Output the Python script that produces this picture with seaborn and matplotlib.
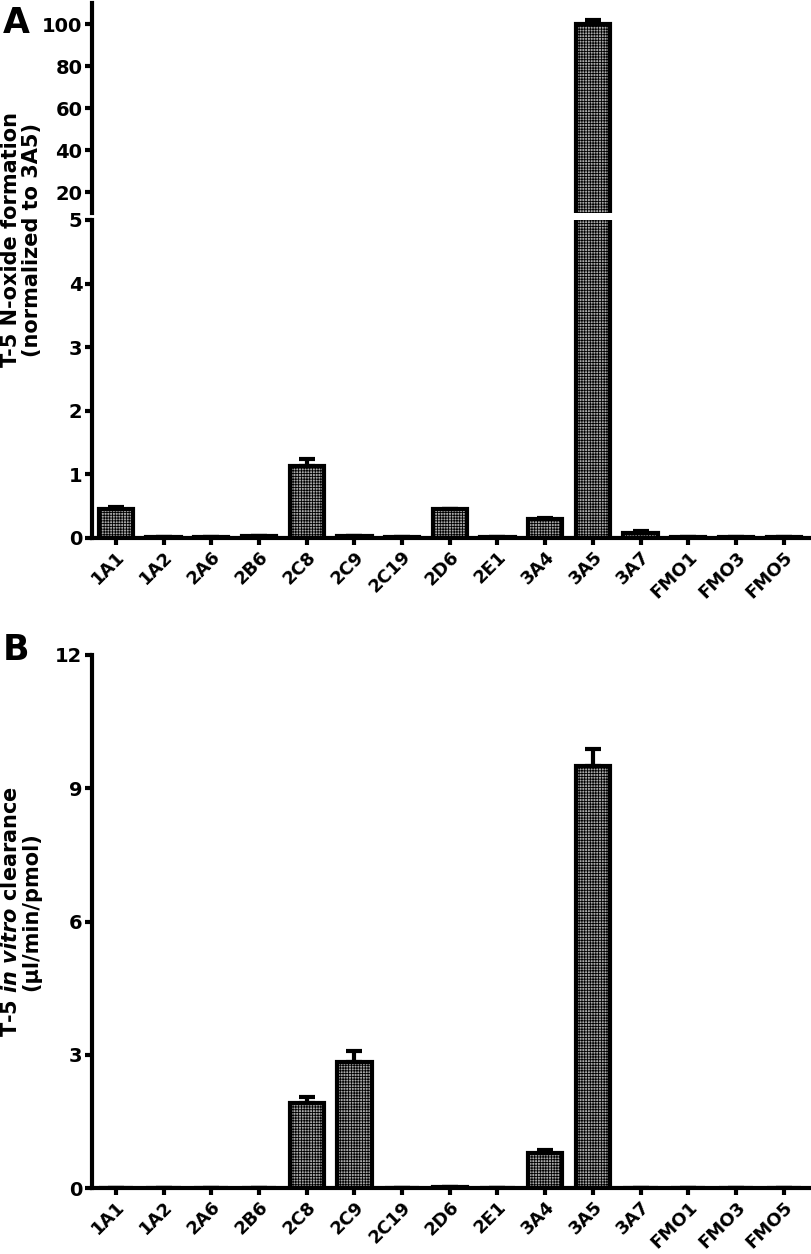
import numpy as np
import pandas as pd
import matplotlib
matplotlib.use("Agg")
import matplotlib.pyplot as plt
import seaborn as sns

# Data
isoforms = ["1A1", "1A2", "2A6", "2B6", "2C8", "2C9", "2C19", "2D6", "2E1",
            "3A4", "3A5", "3A7", "FMO1", "FMO3", "FMO5"]
noxide = [0.45, 0.02, 0.02, 0.03, 1.13, 0.03, 0.02, 0.45, 0.02,
          0.30, 100.0, 0.08, 0.01, 0.01, 0.02]
noxide_err = [0.03, 0.0, 0.0, 0.0, 0.11, 0.0, 0.0, 0.01, 0.0,
              0.01, 2.0, 0.03, 0.0, 0.0, 0.0]
clearance = [0.0, 0.0, 0.0, 0.0, 1.92, 2.83, 0.0, 0.03, 0.0,
             0.78, 9.50, 0.0, 0.0, 0.0, 0.0]
clearance_err = [0.0, 0.0, 0.0, 0.0, 0.12, 0.25, 0.0, 0.0, 0.0,
                 0.08, 0.38, 0.0, 0.0, 0.0, 0.0]

df = pd.DataFrame({"isoform": isoforms, "noxide": noxide, "noxide_err": noxide_err,
                   "clearance": clearance, "clearance_err": clearance_err})

sns.set_style("ticks")
plt.rcParams["font.family"] = ["DejaVu Sans"]
plt.rcParams["font.weight"] = "bold"
plt.rcParams["mathtext.fontset"] = "custom"
plt.rcParams["mathtext.it"] = "DejaVu Sans:bold:italic"
plt.rcParams["mathtext.rm"] = "DejaVu Sans:bold"
plt.rcParams["hatch.color"] = "#3a3a3a"
plt.rcParams["hatch.linewidth"] = 0.6
for k in ["text.color", "axes.labelcolor", "xtick.color", "ytick.color", "axes.edgecolor"]:
    plt.rcParams[k] = "black"

LW = 3.0
FS = 14

fig = plt.figure(figsize=(8.12, 12.54), dpi=100)
ax_top = fig.add_axes([0.1133, 0.830, 0.8842, 0.1676])
ax_bot = fig.add_axes([0.1133, 0.571, 0.8842, 0.2536])
ax_b = fig.add_axes([0.1133, 0.0526, 0.8842, 0.4251])


def draw_bars(ax, col, errcol):
    sns.barplot(data=df, x="isoform", y=col, ax=ax, color="#a8a8a8",
                edgecolor="black", linewidth=LW, width=0.72, errorbar=None,
                saturation=1)
    for p in ax.patches:
        p.set_hatch("++++++")
    xs = np.arange(len(df))
    ax.errorbar(xs, df[col], yerr=[np.zeros(len(df)), df[errcol]], fmt="none",
                ecolor="black", elinewidth=LW, capsize=6, capthick=LW, zorder=1)
    ax.set_xlim(-0.5, 14.55)
    ax.set_xlabel("")
    ax.set_ylabel("")
    for s in ["top", "right"]:
        ax.spines[s].set_visible(False)
    for s in ["left", "bottom"]:
        ax.spines[s].set_linewidth(LW)
    ax.tick_params(width=LW, length=5, labelsize=FS, direction="out", pad=2)


draw_bars(ax_top, "noxide", "noxide_err")
draw_bars(ax_bot, "noxide", "noxide_err")
draw_bars(ax_b, "clearance", "clearance_err")

# broken axis for panel A
ax_top.set_ylim(10, 110)
ax_top.set_yticks([20, 40, 60, 80, 100])
ax_top.spines["bottom"].set_visible(False)
ax_top.tick_params(axis="x", bottom=False, labelbottom=False)

ax_bot.set_ylim(0, 5)
ax_bot.set_yticks([0, 1, 2, 3, 4, 5])

ax_b.set_ylim(0, 12)
ax_b.set_yticks([0, 3, 6, 9, 12])

for ax in [ax_bot, ax_b]:
    ax.set_xticks(range(len(isoforms)))
    ax.set_xticklabels(isoforms, rotation=45, ha="right", rotation_mode="anchor",
                       fontsize=13, fontweight="bold")

for ax in [ax_top, ax_bot, ax_b]:
    for lab in ax.get_yticklabels():
        lab.set_fontweight("bold")

fig.text(0.026, 0.809, "T-5 N-oxide formation\n(normalized to 3A5)", rotation=90,
         ha="center", va="center", fontsize=15, fontweight="bold", linespacing=1.05)
fig.text(0.026, 0.273, "T-5 $\\mathit{in\\ vitro}$ clearance\n(µl/min/pmol)", rotation=90,
         ha="center", va="center", fontsize=15, fontweight="bold", linespacing=1.05)

fig.text(0.003, 0.995, "A", ha="left", va="top", fontsize=25, fontweight="bold")
fig.text(0.003, 0.495, "B", ha="left", va="top", fontsize=25, fontweight="bold")

fig.savefig("out.png", dpi=100)
